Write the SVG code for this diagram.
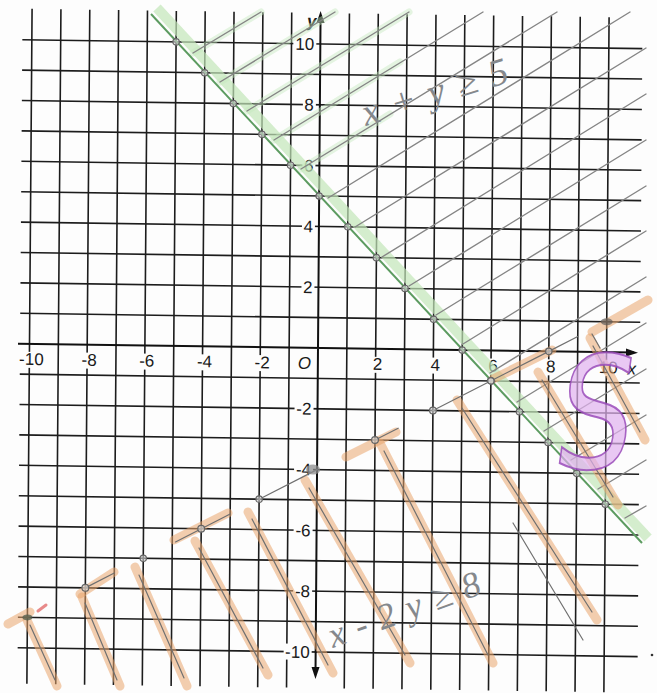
<svg xmlns="http://www.w3.org/2000/svg" width="657" height="693" viewBox="0 0 657 693">
<style>
.grid{stroke:#1c1c1c;stroke-width:1.6;fill:none}
.axis{stroke:#111;stroke-width:2;fill:none}
.arrow{fill:#111}
.lbl{font-family:'Liberation Sans',Arial,sans-serif;font-size:17px;fill:#1a1a1a}
.bg{fill:#fdfdfd}
.hatch{stroke:#858585;stroke-width:1.4;fill:none;stroke-linecap:round}
.glow{stroke:#c6e8be;stroke-width:7;opacity:.45;stroke-linecap:round;fill:none}
.or{stroke:#e9a66e;stroke-width:9;opacity:.55;stroke-linecap:round;fill:none}
.pen{stroke:#707070;stroke-width:1.2;fill:none;stroke-linecap:round}
.dot{fill:#d8d8d8;fill-opacity:.6;stroke:#666;stroke-width:1.2}
.hand{font-family:'Liberation Serif','Times New Roman',serif;font-style:italic;fill:#85888c}
</style>
<rect width="657" height="693" fill="#fdfdfd"/>

<g id="grid" transform="matrix(1,0.0145,-0.0077,1,318,348)">
<path class="grid" d="M-288.5 -335V340M-259.65 -335V340M-230.8 -335V340M-201.95 -335V340M-173.1 -335V340M-144.25 -335V340M-115.4 -335V340M-86.55 -335V340M-57.7 -335V340M-28.85 -335V340M28.85 -335V340M57.7 -335V340M86.55 -335V340M115.4 -335V340M144.25 -335V340M173.1 -335V340M201.95 -335V340M230.8 -335V340M259.65 -335V340M288.5 -335V340"/>
<path class="grid" d="M-298 -304H322M-298 -273.6H322M-298 -243.2H322M-298 -212.8H322M-298 -182.4H322M-298 -152H322M-298 -121.6H322M-298 -91.2H322M-298 -60.8H322M-298 -30.4H322M-298 30.4H322M-298 60.8H322M-298 91.2H322M-298 121.6H322M-298 152H322M-298 182.4H322M-298 212.8H322M-298 243.2H322M-298 273.6H322M-298 304H322"/>
<path class="axis" d="M-300 0H316M0 -330V324"/>
<path class="arrow" d="M320 0L308 -4L308 4Z"/>
<path class="arrow" d="M0 -337L-4 -325L4 -325Z"/>
<path class="arrow" d="M0 331L-4 319L4 319Z"/>
</g>

<g id="labels" transform="matrix(1,0.0145,-0.0077,1,318,348)">
<rect class="bg" x="-300" y="8" width="27" height="16"/>
<rect class="bg" x="-237.4" y="8" width="17.2" height="16"/>
<rect class="bg" x="-179.7" y="8" width="17.2" height="16"/>
<rect class="bg" x="-122" y="8" width="17.2" height="16"/>
<rect class="bg" x="-64.3" y="8" width="17.2" height="16"/>
<rect class="bg" x="54" y="8" width="11.5" height="16"/>
<rect class="bg" x="111.7" y="8" width="11.5" height="16"/>
<rect class="bg" x="169.4" y="8" width="11.5" height="16"/>
<rect class="bg" x="227.1" y="8" width="11.5" height="16"/>
<rect class="bg" x="280" y="8" width="21" height="16"/>
<text class="lbl" x="-286.5" y="21" text-anchor="middle">-10</text>
<text class="lbl" x="-228.8" y="21" text-anchor="middle">-8</text>
<text class="lbl" x="-171.1" y="21" text-anchor="middle">-6</text>
<text class="lbl" x="-113.4" y="21" text-anchor="middle">-4</text>
<text class="lbl" x="-55.7" y="21" text-anchor="middle">-2</text>
<text class="lbl" x="59.7" y="21" text-anchor="middle">2</text>
<text class="lbl" x="117.4" y="21" text-anchor="middle">4</text>
<text class="lbl" x="175.1" y="21" text-anchor="middle">6</text>
<text class="lbl" x="232.8" y="21" text-anchor="middle">8</text>
<text class="lbl" x="290.5" y="21" text-anchor="middle">10</text>
<text class="lbl" x="-13.5" y="21" text-anchor="middle" font-style="italic" font-size="18">O</text>
<text class="lbl" x="314" y="22" text-anchor="middle" font-style="italic">x</text>
<text class="lbl" x="-4" y="-321" text-anchor="end" font-style="italic" font-weight="bold">y</text>
<rect class="bg" x="-27" y="-312" width="23" height="16"/>
<rect class="bg" x="-17" y="-251.2" width="13" height="16"/>
<rect class="bg" x="-17" y="-190.4" width="13" height="16"/>
<rect class="bg" x="-17" y="-129.6" width="13" height="16"/>
<rect class="bg" x="-17" y="-68.8" width="13" height="16"/>
<rect class="bg" x="-23" y="52.8" width="19" height="16"/>
<rect class="bg" x="-23" y="113.6" width="19" height="16"/>
<rect class="bg" x="-23" y="174.4" width="19" height="16"/>
<rect class="bg" x="-23" y="235.2" width="19" height="16"/>
<rect class="bg" x="-32" y="296" width="28" height="16"/>
<text class="lbl" x="-6" y="-298" text-anchor="end">10</text>
<text class="lbl" x="-6" y="-237.2" text-anchor="end">8</text>
<text class="lbl" x="-6" y="-176.4" text-anchor="end">6</text>
<text class="lbl" x="-6" y="-115.6" text-anchor="end">4</text>
<text class="lbl" x="-6" y="-54.8" text-anchor="end">2</text>
<text class="lbl" x="-6" y="66.8" text-anchor="end">-2</text>
<text class="lbl" x="-6" y="127.6" text-anchor="end">-4</text>
<text class="lbl" x="-6" y="188.4" text-anchor="end">-6</text>
<text class="lbl" x="-6" y="249.2" text-anchor="end">-8</text>
<text class="lbl" x="-6" y="310" text-anchor="end">-10</text>
</g>

<g id="region-x-plus-y">
<path d="M157 8L648 538" stroke="#c2e6b8" stroke-width="10" opacity=".7" fill="none"/>
<path class="glow" d="M193 53L261 12M220 82L335 12M247 111L409 12M274 140L400 62M301 169L390 114"/>
<path class="hatch" d="M193 53L261 12M220 82L335 12M247 111L409 12M274 140L483 12M301 169L557 12M328 198L630 12M355 227L646 48M382 257L646 94M409 286L646 140M436 315L646 186M463 344L646 231M490 373L646 277M517 402L646 323M544 431L646 369M571 460L646 415M598 489L646 460M625 518L646 506"/>
<path d="M151 14L642 543" stroke="#5c9b60" stroke-width="2" fill="none"/>
</g>

<g id="region-x-minus-2y">
<path class="or" d="M8 624L30 612M80 594L114 572M174 540L228 513M346 457L396 432M493 379L552 350M592 332L648 300"/>
<path class="or" d="M27 620L57 686M82 597L120 686M135 567L187 686M195 541L268 675M248 512L333 673M305 480L410 663M380 443L493 663M457 400L597 620M538 372L618 505M590 338L645 440"/>
<path class="pen" d="M30 625L55 680M85 603L117 680M139 575L184 678M199 548L263 668M252 519L328 665M309 488L405 655M384 451L488 655M462 408L592 612M513 523L583 640M542 380L613 497M593 346L640 432"/>
<path d="M38 611L46 605" stroke="#e88a8a" stroke-width="3" stroke-linecap="round"/>
<path class="pen" d="M592 334L600 348" stroke-width="2.2"/>
</g>

<g id="points" transform="matrix(1,0.0145,-0.0077,1,318,348)">
<path class="pen" d="M-230.8 243.2L-201.95 228M-141 196L-86.55 167.2M-57.7 152L0 121.6M57.7 91.2L80.8 79M115.4 60.8L230.8 0L259.65 -15.2"/>
<g class="dot">
<circle cx="-144.25" cy="-304" r="3.2"/><circle cx="-115.4" cy="-273.6" r="3.2"/><circle cx="-86.55" cy="-243.2" r="3.2"/><circle cx="-57.7" cy="-212.8" r="3.2"/><circle cx="-28.85" cy="-182.4" r="3.2"/><circle cx="0" cy="-152" r="3.2"/><circle cx="28.85" cy="-121.6" r="3.2"/><circle cx="57.7" cy="-91.2" r="3.2"/><circle cx="86.55" cy="-60.8" r="3.2"/><circle cx="115.4" cy="-30.4" r="3.2"/><circle cx="144.25" cy="0" r="3.2"/><circle cx="173.1" cy="30.4" r="3.2"/><circle cx="201.95" cy="60.8" r="3.2"/><circle cx="230.8" cy="91.2" r="3.2"/><circle cx="259.65" cy="121.6" r="3.2"/><circle cx="288.5" cy="152" r="3.2"/>
<circle cx="-230.8" cy="243.2" r="3.4"/><circle cx="-173.1" cy="212.8" r="3.2"/><circle cx="-115.4" cy="182.4" r="3.4"/><circle cx="-57.7" cy="152" r="3.2"/><circle cx="57.7" cy="91.2" r="3.4"/><circle cx="115.4" cy="60.8" r="3.4"/><circle cx="173.1" cy="30.4" r="3.2"/><circle cx="230.8" cy="0" r="3.2"/>
</g>
<ellipse cx="-4" cy="121.6" rx="7" ry="5" fill="#8e8e8e" opacity=".75"/>
<ellipse cx="-288.5" cy="273.6" rx="5" ry="3" fill="#4d5c4d" opacity=".75"/>
<ellipse cx="288.5" cy="-30.4" rx="6" ry="3.5" fill="#555" opacity=".65"/>
</g>

<g id="handwriting">
<text class="hand" font-size="38" letter-spacing="13" transform="translate(366,126) rotate(-17)">x+y≥5</text>
<text class="hand" font-size="36" letter-spacing="12" transform="translate(333,648) rotate(-20)">x-2y≥8</text>
</g>

<g id="solution-S">
<text x="0" y="0" text-anchor="middle" transform="translate(589,468) skewX(-8) scale(0.78,1)" font-family="'DejaVu Sans',sans-serif" font-size="156" fill="#e0b0ee" fill-opacity=".7" stroke="#9a4cba" stroke-width="2" stroke-opacity=".85">S</text>
</g>
<circle cx="652" cy="655" r="1.3" fill="#333"/>
</svg>
